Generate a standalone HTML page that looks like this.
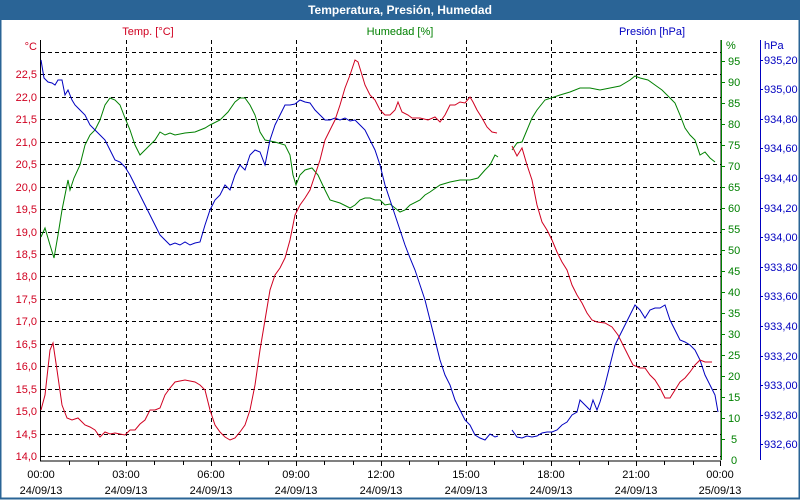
<!DOCTYPE html>
<html><head><meta charset="utf-8"><style>
body{margin:0;width:800px;height:500px;overflow:hidden;background:#fff}
svg{display:block;font-family:"Liberation Sans",sans-serif;font-size:11px}
</style></head><body>
<svg width="800" height="500" viewBox="0 0 800 500">
<rect x="0" y="0" width="800" height="500" fill="#fff"/>
<rect x="0.5" y="0.5" width="799" height="498" fill="none" stroke="#2a6496" stroke-width="2"/>
<rect x="0" y="0" width="800" height="20" fill="#2a6496"/>
<text x="400" y="14" fill="#fff" font-weight="bold" text-anchor="middle" font-size="12">Temperatura, Presión, Humedad</text>
<text x="148" y="35" fill="#d00020" text-anchor="middle">Temp. [°C]</text>
<text x="400" y="35" fill="#008000" text-anchor="middle">Humedad [%]</text>
<text x="652" y="35" fill="#0000c0" text-anchor="middle">Presión [hPa]</text>
<g stroke="#000" stroke-dasharray="4,3" stroke-width="1">
<path d="M41 52.5H721M41 74.5H721M41 97.5H721M41 119.5H721M41 142.5H721M41 164.5H721M41 187.5H721M41 209.5H721M41 232.5H721M41 254.5H721M41 276.5H721M41 299.5H721M41 321.5H721M41 344.5H721M41 366.5H721M41 389.5H721M41 411.5H721M41 434.5H721M41 456.5H721"/>
<path d="M126.5 40V460M211.5 40V460M296.5 40V460M381.5 40V460M466.5 40V460M551.5 40V460M636.5 40V460"/>
</g>
<path d="M40.5 40V461H721M721 40V460" stroke="#000" fill="none"/>
<g stroke="#000"><path d="M69.5 461v4M98.5 461v4M126.5 461v5M154.5 461v4M183.5 461v4M211.5 461v5M239.5 461v4M268.5 461v4M296.5 461v5M324.5 461v4M353.5 461v4M381.5 461v5M409.5 461v4M438.5 461v4M466.5 461v5M494.5 461v4M523.5 461v4M551.5 461v5M579.5 461v4M608.5 461v4M636.5 461v5M664.5 461v4M693.5 461v4M720.5 461v5"/></g>
<g fill="#d00020" text-anchor="end">
<text x="37" y="50">°C</text>
<text x="37" y="78">22,5</text><text x="37" y="101">22,0</text><text x="37" y="123">21,5</text><text x="37" y="146">21,0</text><text x="37" y="168">20,5</text><text x="37" y="191">20,0</text><text x="37" y="213">19,5</text><text x="37" y="236">19,0</text><text x="37" y="258">18,5</text><text x="37" y="280">18,0</text><text x="37" y="303">17,5</text><text x="37" y="325">17,0</text><text x="37" y="348">16,5</text><text x="37" y="370">16,0</text><text x="37" y="393">15,5</text><text x="37" y="415">15,0</text><text x="37" y="438">14,5</text><text x="37" y="460">14,0</text>
</g>
<path d="M721.5 40V460" stroke="#008000"/>
<g stroke="#008000"><path d="M721 61.5h4M721 82.5h4M721 103.5h4M721 124.5h4M721 145.5h4M721 166.5h4M721 187.5h4M721 208.5h4M721 229.5h4M721 250.5h4M721 271.5h4M721 292.5h4M721 313.5h4M721 334.5h4M721 355.5h4M721 376.5h4M721 397.5h4M721 418.5h4M721 439.5h4"/></g>
<g fill="#008000">
<text x="726" y="49">%</text>
<text x="728" y="65">95</text><text x="728" y="86">90</text><text x="728" y="107">85</text><text x="728" y="128">80</text><text x="728" y="149">75</text><text x="728" y="170">70</text><text x="728" y="191">65</text><text x="728" y="212">60</text><text x="728" y="233">55</text><text x="728" y="254">50</text><text x="728" y="275">45</text><text x="728" y="296">40</text><text x="728" y="317">35</text><text x="728" y="338">30</text><text x="728" y="359">25</text><text x="728" y="380">20</text><text x="728" y="401">15</text><text x="728" y="422">10</text><text x="731" y="443">5</text><text x="731" y="464">0</text>
</g>
<path d="M760.5 40V460" stroke="#0000c0"/>
<g stroke="#0000c0"><path d="M760 60.5h3M760 89.5h3M760 119.5h3M760 148.5h3M760 178.5h3M760 208.5h3M760 237.5h3M760 267.5h3M760 296.5h3M760 326.5h3M760 356.5h3M760 385.5h3M760 415.5h3M760 444.5h3"/></g>
<g fill="#0000c0">
<text x="764" y="49">hPa</text>
<text x="764" y="64">935,20</text><text x="764" y="93">935,00</text><text x="764" y="123">934,80</text><text x="764" y="152">934,60</text><text x="764" y="182">934,40</text><text x="764" y="212">934,20</text><text x="764" y="241">934,00</text><text x="764" y="271">933,80</text><text x="764" y="300">933,60</text><text x="764" y="330">933,40</text><text x="764" y="360">933,20</text><text x="764" y="389">933,00</text><text x="764" y="419">932,80</text><text x="764" y="448">932,60</text>
</g>
<g fill="#000" text-anchor="middle">
<text x="41" y="478">00:00</text><text x="41" y="494">24/09/13</text>
<text x="126" y="478">03:00</text><text x="126" y="494">24/09/13</text>
<text x="211" y="478">06:00</text><text x="211" y="494">24/09/13</text>
<text x="296" y="478">09:00</text><text x="296" y="494">24/09/13</text>
<text x="381" y="478">12:00</text><text x="381" y="494">24/09/13</text>
<text x="466" y="478">15:00</text><text x="466" y="494">24/09/13</text>
<text x="551" y="478">18:00</text><text x="551" y="494">24/09/13</text>
<text x="636" y="478">21:00</text><text x="636" y="494">24/09/13</text>
<text x="720" y="478">00:00</text><text x="720" y="494">25/09/13</text>
</g>
<g fill="none" stroke-width="1">
<polyline stroke="#008000" points="41,237 45,228 50,245 54,258 58,235 62,210 66,190 68,180 70,190 74,178 80,165 85,145 90,135 95,130 100,120 105,105 110,98 115,100 120,105 125,118 130,130 135,145 140,155 145,150 150,145 155,140 160,132 165,135 170,133 175,135 185,133 195,132 205,128 210,125 220,120 228,112 235,102 240,98 245,98 250,105 255,115 260,132 265,140 275,142 285,145 290,155 293,175 296,185 300,175 305,170 312,168 318,175 325,190 330,200 340,203 350,208 355,205 360,200 365,198 370,198 375,200 380,200 385,205 390,204 395,208 400,212 405,210 410,205 420,200 425,195 430,192 440,185 450,182 460,180 470,180 478,178 485,170 490,165 495,155 498,157"/>
<polyline stroke="#008000" points="512,150 517,143 522,142 527,130 532,118 537,110 545,100 560,95 570,92 580,88 590,88 600,90 610,88 620,86 630,80 635,76 640,78 648,80 655,85 662,90 670,98 675,103 680,115 685,128 690,135 695,140 700,155 705,152 710,158 715,162"/>
<polyline stroke="#0000c0" points="41,60 44,78 48,82 52,83 55,85 58,80 62,80 65,95 68,90 72,100 75,105 80,110 85,115 90,125 95,130 100,135 105,140 110,150 115,160 120,162 125,167 130,175 135,185 140,195 145,205 150,215 155,225 160,235 165,240 170,245 175,243 180,245 185,242 190,245 195,243 200,242 205,225 210,210 215,200 220,195 225,185 230,190 235,175 240,165 245,170 250,155 255,150 260,152 265,165 270,140 275,125 280,115 285,105 290,105 295,104 300,100 305,102 310,103 315,110 320,115 325,120 330,120 335,118 340,120 345,118 350,121 355,120 360,125 365,130 370,140 375,150 380,165 385,185 390,200 395,215 400,230 405,245 410,258 415,270 420,285 425,300 430,320 435,340 440,360 445,375 450,385 455,400 460,410 465,420 470,425 475,435 480,438 485,440 490,434 495,437 498,436"/>
<polyline stroke="#0000c0" points="512,430 517,437 522,438 527,436 532,437 537,436 542,433 547,432 552,432 557,430 562,425 567,422 572,415 577,412 580,400 585,405 590,410 593,400 597,410 600,402 605,385 610,365 615,345 620,335 625,325 630,315 635,305 640,310 645,318 650,310 655,308 660,308 665,305 670,320 675,330 680,340 685,342 690,345 695,350 700,360 705,375 710,385 715,395 718,412"/>
<polyline stroke="#d00020" points="41,410 45,395 50,350 53,343 57,370 62,405 67,418 72,420 78,418 85,425 90,427 95,430 100,437 105,432 110,434 115,433 125,435 130,430 135,430 140,424 145,420 150,410 155,410 160,408 165,395 170,388 175,382 185,380 195,382 200,385 205,390 210,410 215,425 220,432 225,437 230,440 235,438 240,432 245,425 250,410 255,385 260,350 265,320 270,290 275,275 280,268 285,258 290,240 295,215 300,205 305,198 310,190 315,175 320,160 325,140 330,130 335,120 340,105 345,88 350,75 355,60 358,62 362,75 365,85 370,95 375,100 380,110 385,115 390,115 395,110 398,102 402,112 408,115 412,118 420,118 428,120 435,117 440,122 445,115 450,105 455,105 460,102 465,103 470,97 473,102 477,110 482,118 487,127 492,132 497,133"/>
<polyline stroke="#d00020" points="512,146 517,156 522,148 527,165 532,180 537,205 542,222 547,230 552,240 557,252 562,262 567,270 572,285 577,295 582,303 587,313 592,320 597,322 605,323 612,327 618,335 623,345 628,355 633,365 640,368 645,368 650,375 655,380 660,388 665,398 670,398 675,390 680,382 685,378 690,372 695,365 700,360 705,362 712,362"/>
</g>
</svg>
</body></html>
